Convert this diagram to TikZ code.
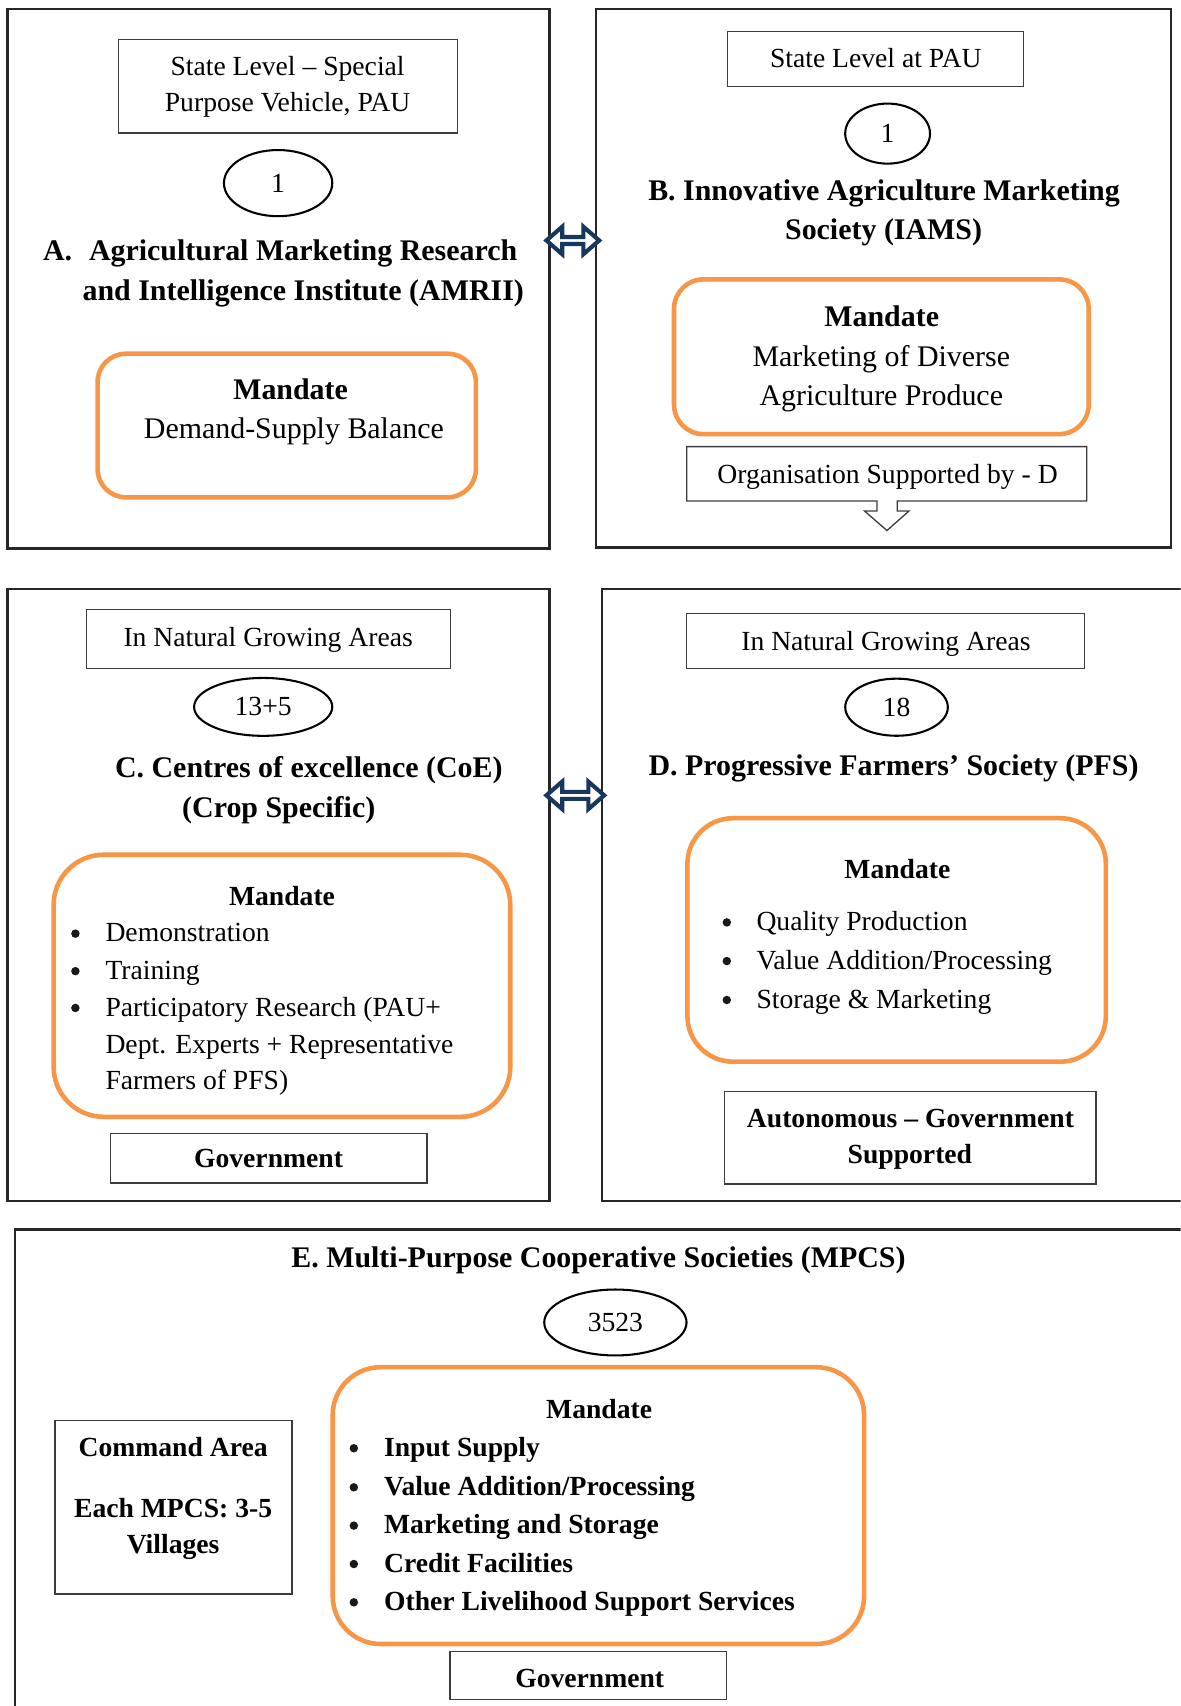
\documentclass[tikz,border=0pt]{standalone}
\usepackage{fontspec}
\setmainfont{Liberation Serif}
\usetikzlibrary{shapes.geometric,fit,calc}
\definecolor{orangeC}{RGB}{247,150,70}
\definecolor{navyC}{RGB}{23,55,94}
\definecolor{grayC}{RGB}{60,60,60}
\begin{document}
\begin{tikzpicture}[x=1pt,y=-1pt,
  box/.style={draw=black!85, line width=2.4pt, inner sep=0pt, outer sep=0pt},
  lbl/.style={draw=grayC, line width=1.2pt, inner sep=0pt, outer sep=0pt},
  mand/.style={draw=orangeC, line width=4.2pt, inner sep=0pt, outer sep=0pt, rounded corners=#1},
  oval/.style={ellipse, draw=black, line width=1.9pt, inner sep=0pt, font=\fontsize{25.4}{30}\selectfont},
  tn/.style={inner sep=0pt, anchor=base, font=\fontsize{25.4}{30}\selectfont},
  tnl/.style={tn, anchor=base west},
  tb/.style={inner sep=0pt, anchor=base, font=\fontsize{25.4}{30}\selectfont\bfseries},
  tbl/.style={tb, anchor=base west},
  Tn/.style={inner sep=0pt, anchor=base, font=\fontsize{27.5}{32}\selectfont},
  Tb/.style={inner sep=0pt, anchor=base, font=\fontsize{27.5}{32}\selectfont\bfseries},
  Tbl/.style={Tb, anchor=base west},
  dot/.style={circle, fill=black!90, inner sep=0pt, minimum size=7.8pt, yshift=7.6pt},
  blockarr/.style={draw=navyC, fill=white, line width=3.8pt, line join=miter},
]
\useasboundingbox (0,0) rectangle (1085,1568);
\fill[white] (0,0) rectangle (1085,1568);
\clip (0,0) rectangle (1085,1568);

% ---------- outer boxes ----------
\node[box, fit={(7,8.2) (505.2,504)}] (A) {};
\node[box, fit={(547.7,8.2) (1076.2,503)}] (B) {};
\node[box, fit={(7,541.4) (505.2,1104)}] (C) {};
\node[box, fit={(553.3,541.4) (1100,1104)}] (D) {};
\node[box, fit={(13.8,1130.3) (1100,1590)}] (E) {};

% ---------- A ----------
\node[lbl, fit={(108.7,36.1) (420.8,122.2)}] (Alev) {};
\node[tn] (Alev1) at (264.3,69) {State Level – Special};
\node[tn] (Alev2) at (264.3,102.5) {Purpose Vehicle, PAU};
\node[oval, minimum width=99.6, minimum height=60.8] (Aov) at (255.6,168.3) {1};
\node[Tbl] (Atit0) at (39.4,239.7) {A.};
\node[Tbl] (Atit1) at (81.6,239.7) {Agricultural Marketing Research};
\node[Tbl] (Atit2) at (75.7,275.8) {and Intelligence Institute (AMRII)};
\node[mand=26pt, fit={(89.7,325.1) (437.4,457.1)}] (Aman) {};
\node[Tb] (Aman1) at (267.1,366.8) {Mandate};
\node[Tn] (Aman2) at (270.1,403.3) {Demand-Supply Balance};

% ---------- B ----------
\node[lbl, fit={(668.4,28.9) (940.4,79.5)}] (Blev) {};
\node[tn] (Blev1) at (805,62.4) {State Level at PAU};
\node[oval, minimum width=78, minimum height=55.2] (Bov) at (815.8,122.8) {1};
\node[Tb] (Btit1) at (812.5,183.9) {B. Innovative Agriculture Marketing};
\node[Tb] (Btit2) at (812.1,220) {Society (IAMS)};
\node[mand=27pt, fit={(619.5,256.8) (1000.6,399)}] (Bman) {};
\node[Tb] (Bman1) at (810.4,300.5) {Mandate};
\node[Tn] (Bman2) at (810,336.6) {Marketing of Diverse};
\node[Tn] (Bman3) at (810,372.7) {Agriculture Produce};
\draw[draw=grayC, line width=1.2pt, fill=white]
  (631.1,410.5) -- (998.8,410.5) -- (998.8,460.4) -- (824.6,460.4) -- (824.6,469.6)
  -- (835.5,469.6) -- (815.2,487.6) -- (794.5,469.6) -- (806,469.6) -- (806,460.4)
  -- (631.1,460.4) -- cycle;
\node[tn] (Borg) at (815.8,444) {Organisation Supported by - D};

% ---------- A <-> B arrow ----------
\coordinate (abL) at ($(A.east |- 0,221)+(-3,0)$);
\coordinate (abR) at ($(B.west |- 0,221)+(3,0)$);
\draw[blockarr] (abL) -- ++(14.5,-12.6) -- ++(0,9.4) -- ($(abR)+(-14.5,-3.2)$) -- ++(0,-9.4)
  -- (abR) -- ++(-14.5,12.6) -- ++(0,-9.4) -- ($(abL)+(14.5,3.2)$) -- ++(0,9.4) -- cycle;

% ---------- C ----------
\node[lbl, fit={(79.5,560.2) (413.8,614.2)}] (Clev) {};
\node[tn] (Clev1) at (246.5,594.2) {In Natural Growing Areas};
\node[oval, minimum width=127, minimum height=53.2] (Cov) at (241.9,649.7) {13+5};
\node[Tb] (Ctit1) at (283.8,715) {C. Centres of excellence (CoE)};
\node[Tb] (Ctit2) at (256.2,751.2) {(Crop Specific)};
\node[mand=46pt, fit={(49.3,785.6) (469,1026.5)}] (Cman) {};
\node[tb] (Cman0) at (259.2,831.8) {Mandate};
\node[dot] (Cb1) at (69.3,865.7) {};
\node[dot] (Cb2) at (69.3,900.2) {};
\node[dot] (Cb3) at (69.3,934) {};
\node[tnl] (Ci1) at (96.8,865.7) {Demonstration};
\node[tnl] (Ci2) at (96.8,900.2) {Training};
\node[tnl] (Ci3) at (96.8,934) {Participatory Research (PAU+};
\node[tnl] (Ci4) at (96.8,968.1) {Dept. Experts + Representative};
\node[tnl] (Ci5) at (96.8,1001.7) {Farmers of PFS)};
\node[lbl, fit={(101.7,1042) (392.4,1087.4)}] (Cgov) {};
\node[tb] (Cgov1) at (246.8,1073.4) {Government};

% ---------- C <-> D arrow ----------
\coordinate (cdL) at ($(C.east |- 0,731)+(-3,0)$);
\coordinate (cdR) at ($(D.west |- 0,731)+(2,0)$);
\draw[blockarr] (cdL) -- ++(14.5,-12.6) -- ++(0,9.4) -- ($(cdR)+(-14.5,-3.2)$) -- ++(0,-9.4)
  -- (cdR) -- ++(-14.5,12.6) -- ++(0,-9.4) -- ($(cdL)+(14.5,3.2)$) -- ++(0,9.4) -- cycle;

% ---------- D ----------
\node[lbl, fit={(630.7,564) (997,614.6)}] (Dlev) {};
\node[tn] (Dlev1) at (814.3,598) {In Natural Growing Areas};
\node[oval, minimum width=94.3, minimum height=52.5] (Dov) at (824,650) {18};
\node[Tb] (Dtit) at (821.3,712.5) {D. Progressive Farmers’ Society (PFS)};
\node[mand=42pt, fit={(631.8,752) (1016.4,975.8)}] (Dman) {};
\node[tb] (Dman0) at (824.8,807.4) {Mandate};
\node[dot] (Db1) at (668,855.4) {};
\node[dot] (Db2) at (668,890.9) {};
\node[dot] (Db3) at (668,926.7) {};
\node[tnl] (Di1) at (695.1,855.4) {Quality Production};
\node[tnl] (Di2) at (695.1,890.9) {Value Addition/Processing};
\node[tnl] (Di3) at (695.1,926.7) {Storage \& Marketing};
\node[lbl, fit={(665.6,1003.2) (1007.3,1088.2)}] (Daut) {};
\node[tb] (Daut1) at (836.8,1036.4) {Autonomous – Government};
\node[tb] (Daut2) at (836.3,1069) {Supported};

% ---------- E ----------
\node[Tb] (Etit) at (550,1165.3) {E. Multi-Purpose Cooperative Societies (MPCS)};
\node[oval, minimum width=130.8, minimum height=60.6] (Eov) at (565.6,1215.5) {3523};
\node[lbl, fit={(50.5,1305.6) (268.5,1465)}] (Ecmd) {};
\node[tb] (Ecmd1) at (159.1,1338.7) {Command Area};
\node[tb] (Ecmd2) at (159.1,1394.5) {Each MPCS: 3-5};
\node[tb] (Ecmd3) at (159.1,1428.2) {Villages};
\node[mand=44pt, fit={(305.8,1256.6) (794.2,1511)}] (Eman) {};
\node[tb] (Eman0) at (550.7,1304.1) {Mandate};
\node[dot] (Eb1) at (325.2,1338.7) {};
\node[dot] (Eb2) at (325.2,1374.6) {};
\node[dot] (Eb3) at (325.2,1409.8) {};
\node[dot] (Eb4) at (325.2,1445.1) {};
\node[dot] (Eb5) at (325.2,1480.3) {};
\node[tbl] (Ei1) at (352.8,1338.7) {Input Supply};
\node[tbl] (Ei2) at (352.8,1374.6) {Value Addition/Processing};
\node[tbl] (Ei3) at (352.8,1409.8) {Marketing and Storage};
\node[tbl] (Ei4) at (352.8,1445.1) {Credit Facilities};
\node[tbl] (Ei5) at (352.8,1480.3) {Other Livelihood Support Services};
\node[lbl, fit={(413.7,1517.7) (667.6,1562)}] (Egov) {};
\node[tb] (Egov1) at (542,1550.8) {Government};
\end{tikzpicture}
\end{document}
